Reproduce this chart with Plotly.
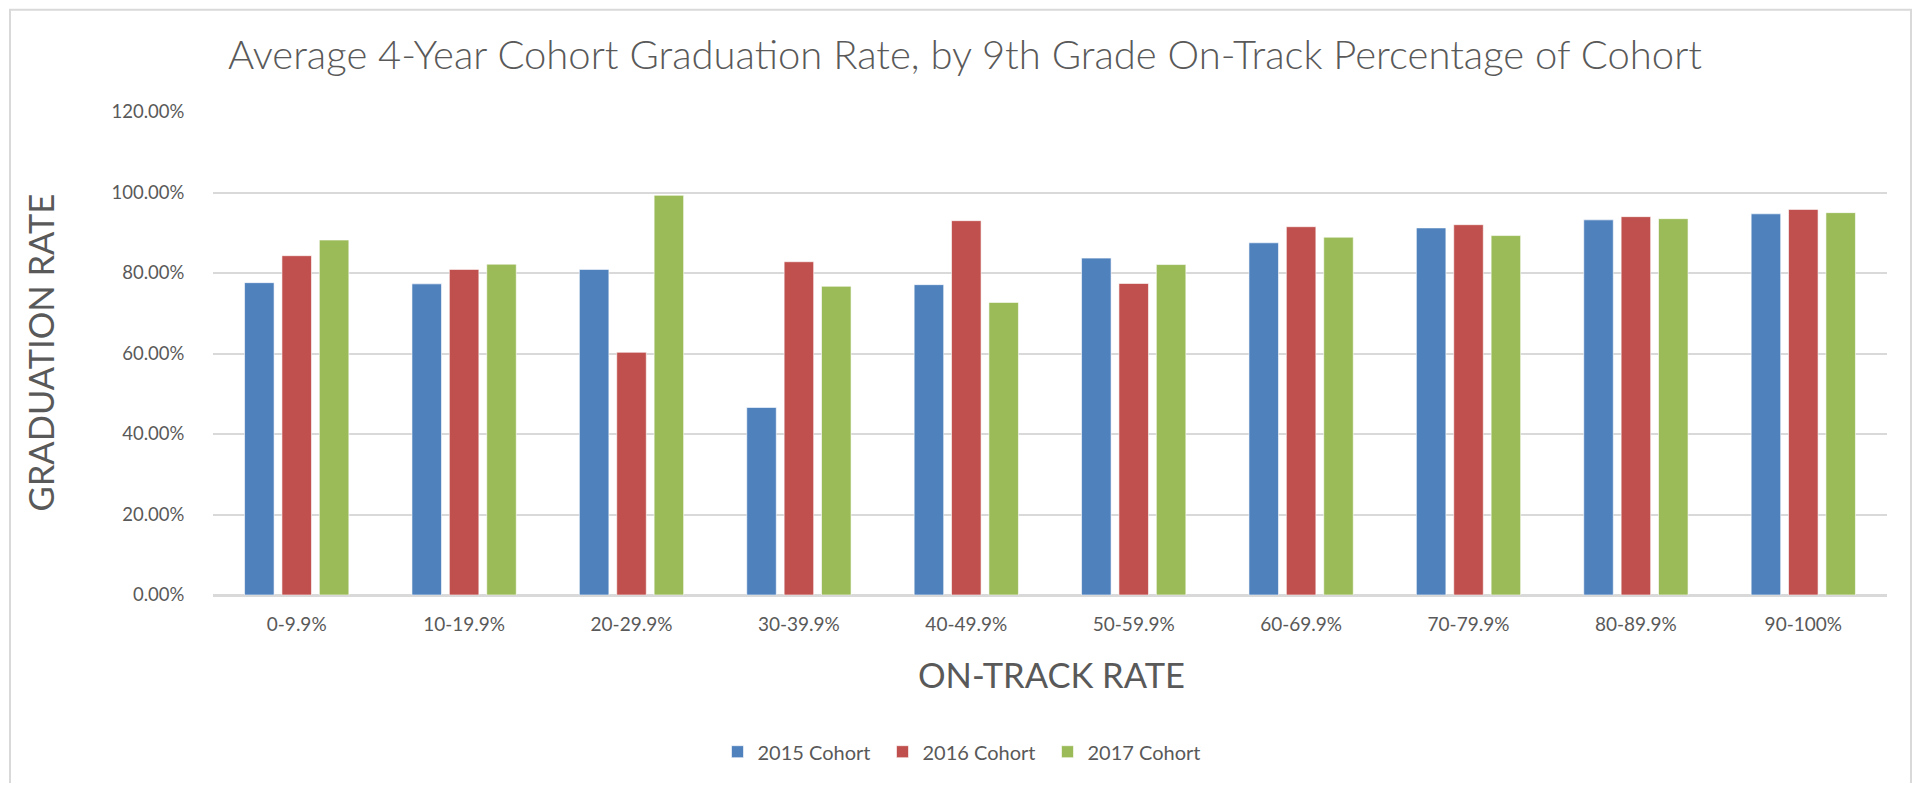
import plotly.graph_objects as go

categories = ["0-9.9%", "10-19.9%", "20-29.9%", "30-39.9%", "40-49.9%",
              "50-59.9%", "60-69.9%", "70-79.9%", "80-89.9%", "90-100%"]
cohort_2015 = [77.6, 77.3, 80.9, 46.6, 77.1, 83.7, 87.5, 91.2, 93.2, 94.7]
cohort_2016 = [84.3, 80.9, 60.3, 82.8, 93.0, 77.4, 91.5, 92.0, 94.0, 95.8]
cohort_2017 = [88.2, 82.2, 99.3, 76.7, 72.7, 82.1, 88.9, 89.3, 93.5, 95.0]
series_names = ["2015 Cohort", "2016 Cohort", "2017 Cohort"]
colors = ["#4F81BD", "#C0504D", "#9BBB59"]

FONT = "Lato"
GRAY = "#595959"

fig = go.Figure()
for name, vals, col in zip(series_names, [cohort_2015, cohort_2016, cohort_2017], colors):
    fig.add_trace(go.Bar(
        x=categories, y=vals, name=name,
        marker=dict(color=col, line=dict(color="rgba(255,255,255,0.6)", width=1)),
    ))

# page body has an 8px margin, so the figure is offset by 8px
OFF = 8
W, H = 1925 - 2 * OFF, 791 - 2 * OFF
L, R, T, B = 205, 30, 104, 184
pw = W - L - R
ph = H - T - B
Y0 = H - B  # y pixel of the 0% line in figure coordinates


def px_x(x):
    return (x - OFF - L) / pw


def px_y(y):
    return (Y0 - (y - OFF)) / ph


fig.update_layout(
    width=W, height=H,
    margin=dict(l=L, r=R, t=T, b=B),
    paper_bgcolor="white", plot_bgcolor="white",
    barmode="group", bargap=0.33, bargroupgap=0.21,
    font=dict(family=FONT, color=GRAY),
    title=dict(text="Average 4-Year Cohort Graduation Rate, by 9th Grade On-Track Percentage of Cohort",
               x=(965 - OFF) / W, xanchor="center", y=1 - (55 - OFF) / H, yanchor="middle",
               font=dict(family=FONT, size=40, color=GRAY, weight=300)),
    legend=dict(orientation="h", x=px_x(965), xanchor="center",
                y=px_y(757), yanchor="middle",
                font=dict(family=FONT, size=20, color=GRAY),
                itemwidth=30, traceorder="normal", entrywidth=120),
    showlegend=True,
)
fig.update_xaxes(
    showgrid=False, showline=True, linecolor="#D9D9D9", linewidth=1.5,
    ticks="outside", ticklen=11, tickcolor="rgba(0,0,0,0)",
    tickfont=dict(family=FONT, size=19, color=GRAY),
)
fig.update_yaxes(
    range=[0, 120], dtick=20, tickformat=".2f", ticksuffix="%",
    showgrid=True, gridcolor="#D9D9D9", gridwidth=1.5,
    zeroline=True, zerolinecolor="#D9D9D9", zerolinewidth=1.5,
    ticks="outside", ticklen=24, tickcolor="rgba(0,0,0,0)",
    tickfont=dict(family=FONT, size=18.5, color=GRAY),
)

fig.add_annotation(text="GRADUATION RATE", xref="paper", yref="paper",
                   x=px_x(40.5), y=px_y(355), xanchor="center", yanchor="middle",
                   textangle=-90, showarrow=False,
                   font=dict(family=FONT, size=34.5, color=GRAY))
fig.add_annotation(text="ON-TRACK RATE", xref="paper", yref="paper",
                   x=px_x(1051), y=px_y(679), xanchor="center", yanchor="middle",
                   showarrow=False,
                   font=dict(family=FONT, size=34.5, color=GRAY))
# chart border
fig.add_shape(type="rect", xref="paper", yref="paper",
              x0=px_x(10), x1=px_x(1911),
              y0=px_y(800), y1=px_y(9),
              line=dict(color="#D9D9D9", width=2), fillcolor="rgba(0,0,0,0)", layer="below")

fig.write_html("out.html")
